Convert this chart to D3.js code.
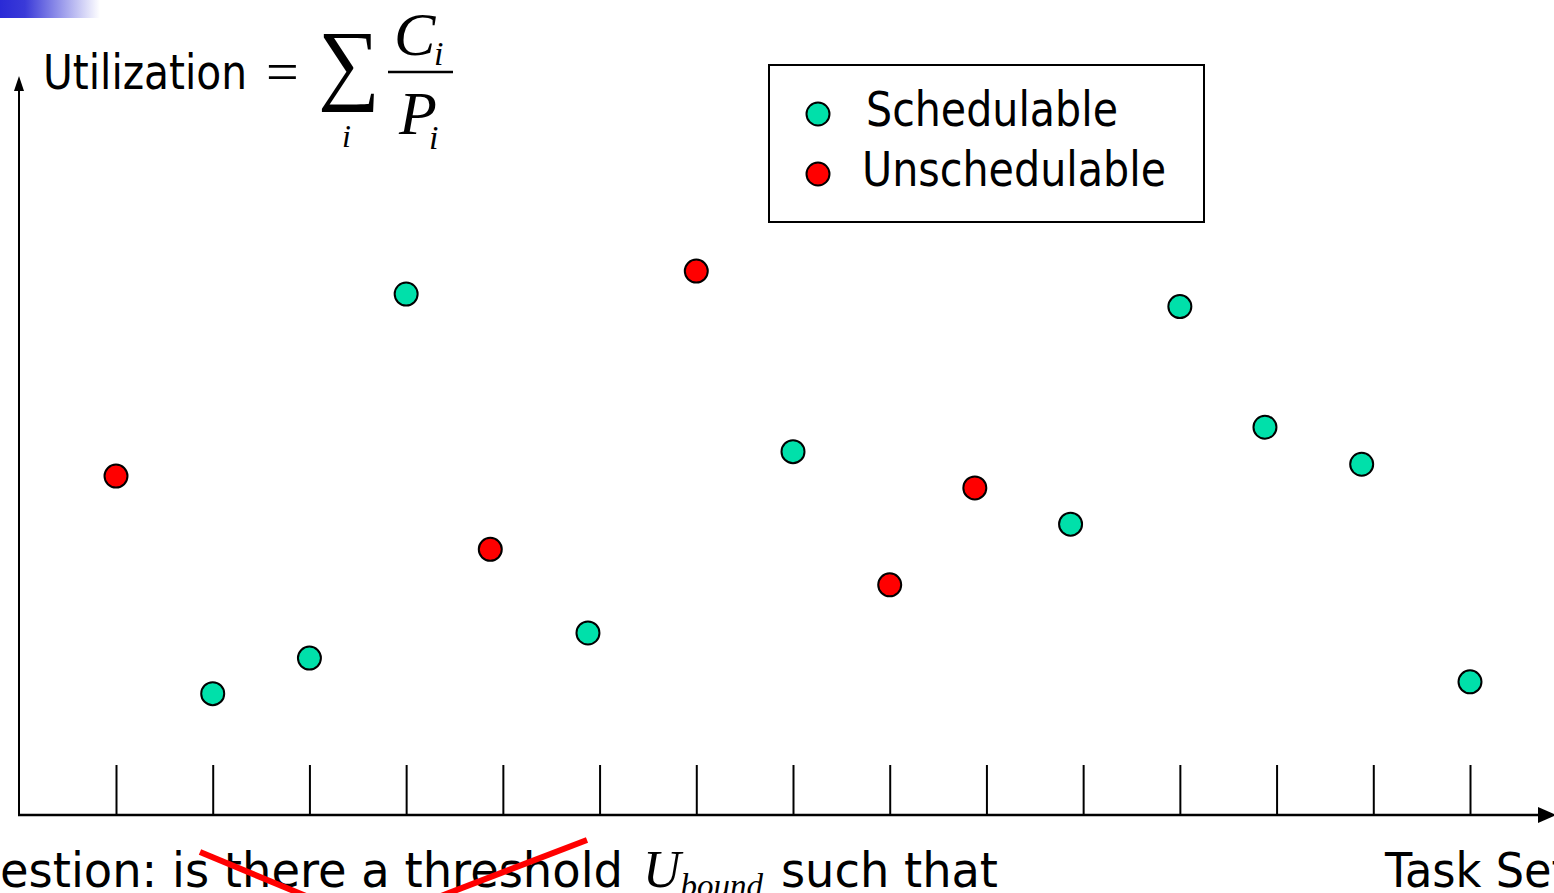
<!DOCTYPE html>
<html>
<head>
<meta charset="utf-8">
<script src="https://cdn.jsdelivr.net/npm/d3@7"></script>
<style>
  html, body { margin: 0; padding: 0; background: #fff; overflow: hidden; }
  svg { display: block; }
</style>
</head>
<body>
<svg id="chart" width="1554" height="893"></svg>
<script>
// task set ticks along the x axis
const taskSets = [1, 2, 3, 4, 5, 6, 7, 8, 9, 10, 11, 12, 13, 14, 15];

// each point: where it sits along the task axis, its utilization, and whether it's schedulable
const pointTask = [1, 2, 3, 4, 4.87, 5.88, 7, 8, 9, 9.88, 10.87, 12, 12.88, 13.88, 15];
const utilization = [0.458, 0.164, 0.212, 0.704, 0.359, 0.246, 0.735, 0.491, 0.311, 0.442, 0.393, 0.687, 0.524, 0.474, 0.180];
const status = ["U", "S", "S", "S", "U", "S", "U", "S", "U", "U", "S", "S", "S", "S", "S"];

const legendLabels = ["Schedulable", "Unschedulable"];
const legendKeys = ["S", "U"];

const colors = { S: "#00e0aa", U: "#ff0000" };
const sansFont = "'DejaVu Sans', Verdana, sans-serif";
const serifFont = "'Liberation Serif', 'Times New Roman', serif";

const svg = d3.select("#chart");

const x = d3.scaleLinear().domain([1, 15]).range([116, 1470]);
const y = d3.scaleLinear().domain([0, 1]).range([815, 75]);

// fit a text element to a width
function fitWidth(sel, w) {
    sel.attr("textLength", w).attr("lengthAdjust", "spacingAndGlyphs");
    return sel;
}

// slide decoration in the corner
const defs = svg.append("defs");
const grad = defs.append("linearGradient").attr("id", "corner");
grad.append("stop").attr("offset", "0%").attr("stop-color", "#2a2ad6");
grad.append("stop").attr("offset", "25%").attr("stop-color", "#3a3ad8");
grad.append("stop").attr("offset", "100%").attr("stop-color", "#ffffff");
svg.append("rect")
    .attr("x", 0).attr("y", 0)
    .attr("width", 100).attr("height", 18)
    .attr("fill", "url(#corner)");

// axes
svg.append("line")
    .attr("x1", 19).attr("y1", 815)
    .attr("x2", 19).attr("y2", 88)
    .attr("stroke", "#000").attr("stroke-width", 2);
svg.append("path")
    .attr("d", "M19,76 L14,91 L24,91 Z")
    .attr("fill", "#000");

svg.append("line")
    .attr("x1", 18).attr("y1", 815)
    .attr("x2", 1542).attr("y2", 815)
    .attr("stroke", "#000").attr("stroke-width", 2.5);
svg.append("path")
    .attr("d", "M1556,815 L1538,807 L1538,823 Z")
    .attr("fill", "#000");

const tickAxis = d3.axisTop(x)
    .tickValues(taskSets)
    .tickSize(50)
    .tickFormat("");

svg.append("g")
    .attr("transform", "translate(0,815)")
    .call(tickAxis)
    .call(g => g.select(".domain").remove())
    .call(g => g.selectAll(".tick line").attr("stroke", "#000").attr("stroke-width", 2));

// points
svg.append("g")
    .selectAll("circle")
    .data(pointTask)
    .join("circle")
    .attr("cx", d => x(d))
    .attr("cy", (d, i) => y(utilization[i]))
    .attr("r", 11.5)
    .attr("fill", (d, i) => colors[status[i]])
    .attr("stroke", "#000")
    .attr("stroke-width", 2);

// y label with formula
fitWidth(svg.append("text")
    .attr("x", 43).attr("y", 89)
    .attr("font-family", sansFont)
    .attr("font-size", 48)
    .text("Utilization"), 204);

const formula = svg.append("g").attr("font-family", serifFont).attr("fill", "#000");
formula.append("text")
    .attr("x", 266).attr("y", 91)
    .attr("font-size", 58)
    .text("=");
fitWidth(formula.append("text")
    .attr("x", 318).attr("y", 93)
    .attr("font-size", 90)
    .text("\u2211"), 62);
formula.append("text")
    .attr("x", 342).attr("y", 147)
    .attr("font-size", 32)
    .attr("font-style", "italic")
    .text("i");
formula.append("line")
    .attr("x1", 388).attr("y1", 72)
    .attr("x2", 453).attr("y2", 72)
    .attr("stroke", "#000").attr("stroke-width", 2.5);
formula.append("text")
    .attr("x", 394).attr("y", 55)
    .attr("font-size", 62)
    .attr("font-style", "italic")
    .text("C");
formula.append("text")
    .attr("x", 434).attr("y", 65)
    .attr("font-size", 34)
    .attr("font-style", "italic")
    .text("i");
formula.append("text")
    .attr("x", 399).attr("y", 134)
    .attr("font-size", 62)
    .attr("font-style", "italic")
    .text("P");
formula.append("text")
    .attr("x", 429).attr("y", 149)
    .attr("font-size", 34)
    .attr("font-style", "italic")
    .text("i");

// legend
svg.append("rect")
    .attr("x", 769).attr("y", 65)
    .attr("width", 435).attr("height", 157)
    .attr("fill", "#fff")
    .attr("stroke", "#000").attr("stroke-width", 2);

const legendTextX = [866, 862];
const legendTextW = [252, 304];
const legendRowY = [114, 174];

const legendRows = svg.append("g")
    .selectAll("g")
    .data(legendLabels)
    .join("g");

legendRows.append("circle")
    .attr("cx", 818)
    .attr("cy", (d, i) => legendRowY[i])
    .attr("r", 11.5)
    .attr("fill", (d, i) => colors[legendKeys[i]])
    .attr("stroke", "#000")
    .attr("stroke-width", 2);

legendRows.append("text")
    .attr("x", (d, i) => legendTextX[i])
    .attr("y", (d, i) => legendRowY[i] + 12)
    .attr("font-family", sansFont)
    .attr("font-size", 48)
    .attr("textLength", (d, i) => legendTextW[i])
    .attr("lengthAdjust", "spacingAndGlyphs")
    .text(d => d);

// bottom question line, cut off at the left like the slide
const question = svg.append("text")
    .attr("font-family", sansFont)
    .attr("font-size", 48)
    .attr("y", 887)
    .attr("text-anchor", "end")
    .attr("x", 623)
    .text("Question: is there a threshold");

// squeeze so that the visible part "estion: ..." runs from 0 to 623
const probe = svg.append("text")
    .attr("font-family", sansFont)
    .attr("font-size", 48)
    .text("estion: is there a threshold");
const partW = probe.node().getComputedTextLength();
probe.remove();
const fullW = question.node().getComputedTextLength();
fitWidth(question, fullW * (623 / partW));

const ub = svg.append("text")
    .attr("font-family", serifFont)
    .attr("font-style", "italic")
    .attr("y", 887);
ub.append("tspan")
    .attr("x", 643)
    .attr("font-size", 52)
    .text("U");
ub.append("tspan")
    .attr("font-size", 33)
    .attr("dy", 10)
    .text("bound");

fitWidth(svg.append("text")
    .attr("x", 781).attr("y", 887)
    .attr("font-family", sansFont)
    .attr("font-size", 48)
    .text("such that"), 217);

// red strike lines
svg.append("line")
    .attr("x1", 200).attr("y1", 852)
    .attr("x2", 330).attr("y2", 906)
    .attr("stroke", "#ff0000").attr("stroke-width", 6);
svg.append("line")
    .attr("x1", 415).attr("y1", 906)
    .attr("x2", 587).attr("y2", 840)
    .attr("stroke", "#ff0000").attr("stroke-width", 6);

// x axis label
svg.append("text")
    .attr("x", 1385).attr("y", 887)
    .attr("font-family", sansFont)
    .attr("font-size", 48)
    .attr("textLength", 184)
    .attr("lengthAdjust", "spacingAndGlyphs")
    .text("Task Set");
</script>
</body>
</html>
